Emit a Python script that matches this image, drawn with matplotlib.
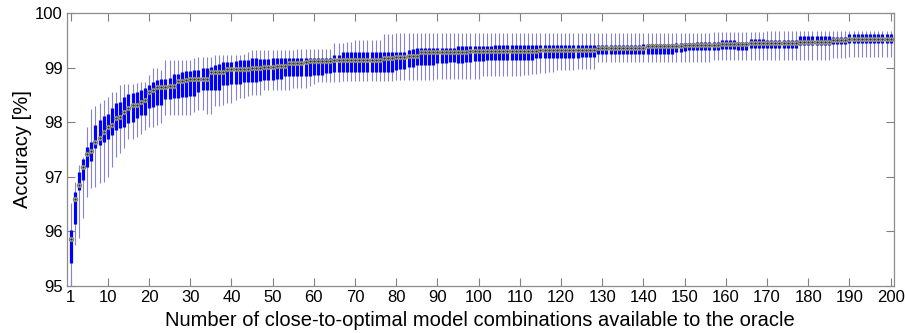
import numpy as np
import matplotlib
matplotlib.use("Agg")
import matplotlib.pyplot as plt

plt.rcParams['font.family'] = ['Liberation Sans', 'DejaVu Sans']

# number of close-to-optimal model combinations (1..200)
n_models = list(range(1, 201))

whisker_hi = [
    96.51, 96.91, 97.21, 97.37, 97.92, 98.24, 98.29, 98.35, 98.41, 98.47,
    98.56, 98.56, 98.68, 98.70, 98.70, 98.71, 98.72, 98.74, 98.74, 98.87,
    98.99, 98.99, 98.96, 99.14, 99.14, 99.14, 99.14, 99.14, 99.14, 99.14,
    99.17, 99.20, 99.20, 99.20, 99.20, 99.23, 99.23, 99.23, 99.24, 99.24,
    99.24, 99.24, 99.26, 99.28, 99.32, 99.32, 99.32, 99.32, 99.32, 99.32,
    99.32, 99.32, 99.32, 99.32, 99.32, 99.34, 99.34, 99.34, 99.34, 99.34,
    99.34, 99.34, 99.34, 99.34, 99.46, 99.46, 99.46, 99.47, 99.47, 99.50,
    99.50, 99.50, 99.50, 99.50, 99.50, 99.51, 99.61, 99.61, 99.61, 99.64,
    99.64, 99.64, 99.64, 99.64, 99.64, 99.64, 99.64, 99.64, 99.64, 99.64,
    99.64, 99.64, 99.64, 99.64, 99.64, 99.64, 99.64, 99.64, 99.64, 99.64,
    99.64, 99.64, 99.64, 99.64, 99.64, 99.64, 99.64, 99.64, 99.64, 99.64,
    99.64, 99.64, 99.64, 99.64, 99.64, 99.64, 99.64, 99.64, 99.64, 99.64,
    99.64, 99.64, 99.64, 99.64, 99.64, 99.64, 99.64, 99.64, 99.64, 99.64,
    99.64, 99.64, 99.64, 99.64, 99.64, 99.64, 99.64, 99.64, 99.64, 99.64,
    99.64, 99.64, 99.64, 99.64, 99.64, 99.64, 99.64, 99.64, 99.64, 99.64,
    99.64, 99.64, 99.64, 99.64, 99.64, 99.64, 99.66, 99.66, 99.66, 99.66,
    99.66, 99.66, 99.66, 99.66, 99.66, 99.66, 99.66, 99.66, 99.66, 99.67,
    99.67, 99.67, 99.67, 99.67, 99.67, 99.67, 99.67, 99.67, 99.67, 99.67,
    99.67, 99.67, 99.67, 99.67, 99.67, 99.67, 99.67, 99.67, 99.67, 99.68,
    99.68, 99.68, 99.68, 99.68, 99.68, 99.68, 99.68, 99.68, 99.68, 99.68,
]

box_hi = [
    96.02, 96.72, 97.09, 97.32, 97.54, 97.64, 97.95, 98.04, 98.11, 98.16,
    98.27, 98.36, 98.38, 98.46, 98.52, 98.53, 98.56, 98.59, 98.62, 98.68,
    98.74, 98.77, 98.80, 98.80, 98.82, 98.88, 98.88, 98.93, 98.94, 98.94,
    98.95, 98.95, 98.99, 98.99, 99.02, 99.05, 99.07, 99.11, 99.11, 99.11,
    99.12, 99.14, 99.14, 99.15, 99.17, 99.17, 99.16, 99.16, 99.16, 99.17,
    99.17, 99.17, 99.17, 99.17, 99.17, 99.17, 99.18, 99.18, 99.18, 99.18,
    99.18, 99.18, 99.18, 99.18, 99.23, 99.23, 99.28, 99.28, 99.28, 99.28,
    99.28, 99.28, 99.28, 99.28, 99.28, 99.28, 99.28, 99.29, 99.29, 99.29,
    99.29, 99.29, 99.32, 99.34, 99.36, 99.37, 99.37, 99.37, 99.37, 99.37,
    99.37, 99.37, 99.37, 99.37, 99.39, 99.40, 99.40, 99.40, 99.40, 99.40,
    99.40, 99.40, 99.40, 99.42, 99.42, 99.42, 99.42, 99.42, 99.42, 99.42,
    99.42, 99.42, 99.42, 99.42, 99.42, 99.42, 99.42, 99.42, 99.42, 99.42,
    99.42, 99.42, 99.42, 99.42, 99.42, 99.42, 99.42, 99.42, 99.42, 99.42,
    99.42, 99.42, 99.42, 99.42, 99.42, 99.42, 99.42, 99.42, 99.42, 99.43,
    99.43, 99.43, 99.43, 99.43, 99.43, 99.43, 99.43, 99.45, 99.45, 99.46,
    99.46, 99.46, 99.47, 99.47, 99.47, 99.47, 99.47, 99.47, 99.50, 99.50,
    99.50, 99.50, 99.48, 99.48, 99.48, 99.52, 99.52, 99.52, 99.52, 99.51,
    99.51, 99.51, 99.51, 99.51, 99.51, 99.51, 99.51, 99.58, 99.58, 99.58,
    99.58, 99.58, 99.58, 99.58, 99.58, 99.57, 99.57, 99.57, 99.57, 99.62,
    99.62, 99.62, 99.62, 99.62, 99.62, 99.62, 99.62, 99.62, 99.62, 99.62,
]

median = [
    95.85, 96.60, 96.85, 97.17, 97.41, 97.48, 97.63, 97.72, 97.83, 97.92,
    97.95, 98.08, 98.10, 98.19, 98.27, 98.31, 98.31, 98.38, 98.41, 98.56,
    98.59, 98.64, 98.64, 98.65, 98.66, 98.66, 98.76, 98.76, 98.77, 98.79,
    98.79, 98.79, 98.79, 98.79, 98.92, 98.92, 98.92, 98.92, 98.97, 98.97,
    98.97, 98.97, 98.98, 98.98, 99.00, 99.00, 99.00, 99.02, 99.02, 99.02,
    99.03, 99.03, 99.03, 99.08, 99.08, 99.08, 99.08, 99.11, 99.12, 99.12,
    99.12, 99.12, 99.12, 99.12, 99.14, 99.14, 99.14, 99.14, 99.15, 99.15,
    99.15, 99.15, 99.15, 99.15, 99.15, 99.15, 99.17, 99.17, 99.17, 99.19,
    99.19, 99.20, 99.21, 99.21, 99.21, 99.28, 99.28, 99.28, 99.28, 99.28,
    99.28, 99.28, 99.28, 99.28, 99.29, 99.29, 99.29, 99.31, 99.31, 99.31,
    99.31, 99.31, 99.31, 99.31, 99.31, 99.31, 99.31, 99.31, 99.31, 99.31,
    99.31, 99.31, 99.31, 99.31, 99.32, 99.32, 99.32, 99.32, 99.32, 99.32,
    99.32, 99.32, 99.32, 99.32, 99.32, 99.32, 99.32, 99.32, 99.36, 99.36,
    99.36, 99.36, 99.36, 99.36, 99.36, 99.36, 99.36, 99.36, 99.36, 99.37,
    99.39, 99.39, 99.39, 99.39, 99.39, 99.39, 99.39, 99.40, 99.40, 99.42,
    99.42, 99.42, 99.42, 99.42, 99.42, 99.42, 99.42, 99.42, 99.43, 99.43,
    99.43, 99.43, 99.43, 99.43, 99.43, 99.45, 99.45, 99.45, 99.45, 99.45,
    99.45, 99.45, 99.45, 99.45, 99.45, 99.45, 99.45, 99.47, 99.47, 99.47,
    99.47, 99.47, 99.47, 99.47, 99.47, 99.50, 99.50, 99.50, 99.50, 99.53,
    99.53, 99.53, 99.53, 99.53, 99.53, 99.53, 99.53, 99.53, 99.53, 99.53,
]

box_lo = [
    95.41, 96.14, 96.76, 96.94, 97.18, 97.28, 97.52, 97.58, 97.64, 97.70,
    97.76, 97.86, 97.89, 97.92, 97.98, 98.01, 98.07, 98.13, 98.13, 98.26,
    98.28, 98.31, 98.31, 98.42, 98.42, 98.44, 98.44, 98.46, 98.47, 98.48,
    98.48, 98.56, 98.59, 98.59, 98.59, 98.60, 98.60, 98.68, 98.68, 98.70,
    98.70, 98.70, 98.73, 98.73, 98.74, 98.74, 98.76, 98.77, 98.77, 98.77,
    98.79, 98.80, 98.84, 98.84, 98.84, 98.84, 98.84, 98.84, 98.85, 98.87,
    98.87, 98.87, 98.90, 98.91, 98.92, 98.92, 98.92, 98.92, 98.93, 98.93,
    98.93, 98.93, 98.93, 98.93, 98.93, 98.93, 98.93, 98.93, 98.93, 98.96,
    98.97, 98.97, 99.02, 99.02, 99.05, 99.05, 99.05, 99.05, 99.05, 99.09,
    99.09, 99.09, 99.11, 99.11, 99.09, 99.09, 99.11, 99.11, 99.13, 99.13,
    99.13, 99.14, 99.14, 99.14, 99.14, 99.14, 99.14, 99.14, 99.14, 99.14,
    99.14, 99.14, 99.15, 99.17, 99.17, 99.17, 99.17, 99.17, 99.17, 99.17,
    99.17, 99.17, 99.17, 99.17, 99.19, 99.20, 99.20, 99.20, 99.25, 99.25,
    99.25, 99.25, 99.25, 99.25, 99.25, 99.25, 99.25, 99.25, 99.25, 99.25,
    99.26, 99.26, 99.26, 99.26, 99.26, 99.26, 99.26, 99.28, 99.28, 99.31,
    99.32, 99.32, 99.32, 99.32, 99.32, 99.32, 99.32, 99.32, 99.34, 99.34,
    99.34, 99.34, 99.32, 99.32, 99.32, 99.36, 99.36, 99.36, 99.36, 99.37,
    99.37, 99.37, 99.37, 99.37, 99.37, 99.37, 99.37, 99.42, 99.42, 99.42,
    99.42, 99.42, 99.42, 99.42, 99.42, 99.43, 99.43, 99.43, 99.43, 99.45,
    99.45, 99.45, 99.45, 99.45, 99.45, 99.45, 99.45, 99.45, 99.45, 99.45,
]

whisker_lo = [
    94.95, 95.75, 95.87, 96.24, 96.63, 96.79, 96.81, 96.88, 96.91, 97.00,
    97.18, 97.37, 97.43, 97.52, 97.70, 97.70, 97.73, 97.79, 97.85, 97.92,
    97.92, 97.95, 97.98, 98.13, 98.13, 98.14, 98.14, 98.14, 98.14, 98.14,
    98.19, 98.22, 98.22, 98.16, 98.16, 98.29, 98.29, 98.32, 98.35, 98.35,
    98.41, 98.44, 98.44, 98.48, 98.50, 98.50, 98.50, 98.59, 98.59, 98.59,
    98.59, 98.59, 98.60, 98.60, 98.62, 98.62, 98.62, 98.62, 98.66, 98.71,
    98.73, 98.73, 98.74, 98.74, 98.74, 98.74, 98.76, 98.76, 98.76, 98.76,
    98.76, 98.76, 98.76, 98.76, 98.76, 98.76, 98.76, 98.76, 98.76, 98.77,
    98.77, 98.77, 98.77, 98.77, 98.77, 98.77, 98.77, 98.77, 98.77, 98.79,
    98.79, 98.79, 98.79, 98.79, 98.79, 98.79, 98.79, 98.79, 98.79, 98.80,
    98.84, 98.84, 98.84, 98.84, 98.84, 98.85, 98.85, 98.85, 98.85, 98.85,
    98.87, 98.87, 98.88, 98.88, 98.90, 98.90, 98.93, 98.93, 98.95, 98.95,
    98.96, 98.96, 98.96, 98.97, 98.97, 98.97, 98.97, 98.97, 99.11, 99.11,
    99.11, 99.11, 99.11, 99.11, 99.11, 99.11, 99.11, 99.11, 99.11, 99.11,
    99.11, 99.11, 99.11, 99.11, 99.11, 99.11, 99.11, 99.11, 99.11, 99.11,
    99.11, 99.11, 99.11, 99.11, 99.11, 99.11, 99.14, 99.14, 99.14, 99.15,
    99.15, 99.15, 99.14, 99.14, 99.14, 99.14, 99.14, 99.14, 99.14, 99.14,
    99.14, 99.14, 99.14, 99.14, 99.14, 99.14, 99.14, 99.15, 99.15, 99.15,
    99.15, 99.15, 99.15, 99.15, 99.15, 99.17, 99.17, 99.17, 99.17, 99.19,
    99.19, 99.19, 99.19, 99.19, 99.19, 99.19, 99.19, 99.19, 99.19, 99.19,
]

x_ticks = [1, 10, 20, 30, 40, 50, 60, 70, 80, 90, 100, 110, 120, 130, 140,
           150, 160, 170, 180, 190, 200]
y_ticks = [95, 96, 97, 98, 99, 100]
x_label = "Number of close-to-optimal model combinations available to the oracle"
y_label = "Accuracy [%]"

fig = plt.figure(figsize=(9.05, 3.33), dpi=100)
ax = fig.add_axes([66.7 / 905, 1 - 285.8 / 333, (894 - 66.7) / 905, (285.8 - 13.2) / 333])

x = np.array(n_models)
ax.vlines(x, whisker_lo, whisker_hi, colors='#8484d0', linewidth=0.8, zorder=2)
ax.vlines(x, box_lo, box_hi, colors='#0000ff', linewidth=2.3, zorder=3,
          capstyle='butt')
ax.plot(x, median, linestyle='none', marker='o', markersize=3.2,
        markerfacecolor='#d8d8d8', markeredgecolor='#787878',
        markeredgewidth=0.7, zorder=4)
ax.plot(x, median, linestyle='none', marker='.', markersize=1.5,
        color='#303030', zorder=5)

ax.set_xlim(0.03, 200.8)
ax.set_ylim(95, 100)
ax.set_xticks(x_ticks)
ax.set_yticks(y_ticks)
ax.tick_params(direction='in', length=5.8, width=0.8, color='#808080',
               labelsize=12, labelcolor='black', top=True, right=True,
               pad=3)
for s in ax.spines.values():
    s.set_color('#8c8c8c')
    s.set_linewidth(0.9)

ax.set_xlabel(x_label, fontsize=14.5, labelpad=4)
ax.set_ylabel(y_label, fontsize=14.5, labelpad=2)

fig.savefig("out.png", dpi=100)
